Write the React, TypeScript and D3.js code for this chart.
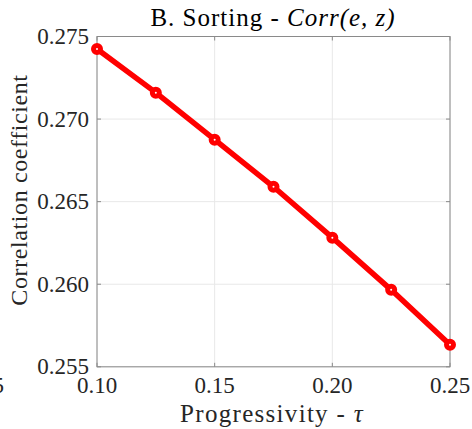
import React from "react";
import * as d3 from "d3";

const tau = [0.1, 0.125, 0.15, 0.175, 0.2, 0.225, 0.25];
const corr = [0.27424, 0.2716, 0.26875, 0.2659, 0.26282, 0.25966, 0.25633];
const xTicks = [0.1, 0.15, 0.2, 0.25];
const yTicks = [0.255, 0.26, 0.265, 0.27, 0.275];
const title = "B. Sorting - ";
const titleMath = "Corr(e, z)";
const xLabel = "Progressivity - ";
const yLabel = "Correlation coefficient";

export default function App() {
  const W = 472, H = 429;
  const L = 97, R = 450, T = 36.5, B = 366.8;
  const x = d3.scaleLinear().domain([0.1, 0.25]).range([L, R]);
  const y = d3.scaleLinear().domain([0.255, 0.275]).range([B, T]);
  const line = d3.line<number>().x((_, i) => x(tau[i])).y((d) => y(d));
  const font = '"Liberation Serif"';
  const axisColor = "#8a8a8a";
  const gridColor = "#e8e8e8";
  const txt = "#262626";
  return (
    <svg width={W} height={H} style={{ position: "absolute", left: 0, top: 0, background: "#fff", fontFamily: font }}>
      <rect x={0} y={0} width={W} height={H} fill="#fff" />
      {xTicks.map((t) => (
        <line key={"gx" + t} x1={x(t)} x2={x(t)} y1={T} y2={B} stroke={gridColor} strokeWidth={1} />
      ))}
      {yTicks.map((t) => (
        <line key={"gy" + t} x1={L} x2={R} y1={y(t)} y2={y(t)} stroke={gridColor} strokeWidth={1} />
      ))}
      <rect x={L} y={T} width={R - L} height={B - T} fill="none" stroke={axisColor} strokeWidth={1} />
      {xTicks.map((t) => (
        <g key={"tx" + t}>
          <line x1={x(t)} x2={x(t)} y1={B} y2={B - 4} stroke={axisColor} />
          <line x1={x(t)} x2={x(t)} y1={T} y2={T + 4} stroke={axisColor} />
          <text x={x(t)} y={393} textAnchor="middle" fontSize={23} fill={txt} style={{ fontFamily: font }}>
            {t.toFixed(2)}
          </text>
        </g>
      ))}
      {yTicks.map((t) => (
        <g key={"ty" + t}>
          <line x1={L} x2={L + 4} y1={y(t)} y2={y(t)} stroke={axisColor} />
          <line x1={R} x2={R - 4} y1={y(t)} y2={y(t)} stroke={axisColor} />
          <text x={89} y={y(t)} dy="0.33em" textAnchor="end" fontSize={23} fill={txt} style={{ fontFamily: font }}>
            {t.toFixed(3)}
          </text>
        </g>
      ))}
      <text x={4} y={393} textAnchor="end" fontSize={23} fill={txt} style={{ fontFamily: font }}>0.25</text>
      <path d={line(corr) || ""} fill="none" stroke="#ff0000" strokeWidth={5.5} strokeLinejoin="round" />
      {corr.map((v, i) => (
        <circle key={"p" + i} cx={x(tau[i])} cy={y(v)} r={3.5} fill="#ffffff" stroke="#ff0000" strokeWidth={5} />
      ))}
      <text x={273} y={26} textAnchor="middle" fontSize={25} letterSpacing={1} fill="#000" style={{ fontFamily: font }}>
        {title}
        <tspan fontStyle="italic">{titleMath}</tspan>
      </text>
      <text x={272} y={422} textAnchor="middle" fontSize={25} letterSpacing={1.3} fill={txt} style={{ fontFamily: font }}>
        {xLabel}
        <tspan fontStyle="italic">τ</tspan>
      </text>
      <text transform={`translate(27,190) rotate(-90)`} textAnchor="middle" fontSize={24} letterSpacing={0.6} fill={txt} style={{ fontFamily: font }}>
        {yLabel}
      </text>
    </svg>
  );
}
